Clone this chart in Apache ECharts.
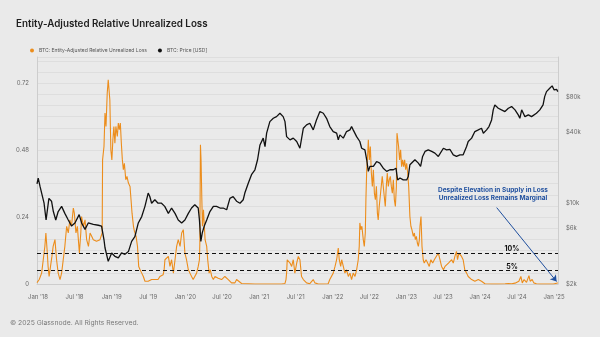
<!DOCTYPE html>
<html><head><meta charset="utf-8">
<script src="https://cdn.jsdelivr.net/npm/echarts@6/dist/echarts.min.js"></script>
<style>html,body{margin:0;padding:0;background:#eaeaea;}#c{width:600px;height:337px;}</style>
</head><body><div id="c"></div>
<script>
const chartTitle = 'Entity-Adjusted Relative Unrealized Loss';
const seriesNames = ['BTC: Entity-Adjusted Relative Unrealized Loss', 'BTC: Price [USD]'];
const footerText = '\u00a9 2025 Glassnode. All Rights Reserved.';
const annotationLines = ['Despite Elevation in Supply in Loss', 'Unrealized Loss Remains Marginal'];
const xTickDates = ['2018-01-01','2018-07-01','2019-01-01','2019-07-01','2020-01-01','2020-07-01','2021-01-01','2021-07-01','2022-01-01','2022-07-01','2023-01-01','2023-07-01','2024-01-01','2024-07-01','2025-01-01'];
const xRange = ['2017-12-27', '2025-01-21'];
const leftTicks = [0, 0.24, 0.48, 0.72];
const priceTicks = [2000, 6000, 10000, 40000, 80000];
const thresholds = [[0.11, '10%'], [0.048, '5%']];
const arrowFrom = ['2024-03-23', 0.274];
const arrowTo = ['2025-01-14', 0.009];

const rulPoints = [
['2017-12-27',0.005],['2018-01-07',0.016],['2018-01-19',0.039],['2018-01-27',0.087],['2018-02-04',0.135],['2018-02-09',0.183],['2018-02-15',0.123],['2018-02-20',0.063],['2018-02-25',0.027],['2018-03-04',0.063],['2018-03-11',0.099],['2018-03-17',0.135],['2018-03-26',0.159],['2018-04-03',0.087],['2018-04-11',0.039],['2018-04-20',0.016],['2018-04-28',0.039],['2018-05-06',0.087],['2018-05-14',0.135],['2018-05-23',0.207],['2018-05-31',0.183],['2018-06-08',0.230],['2018-06-16',0.207],['2018-06-25',0.272],['2018-06-30',0.254],['2018-07-08',0.183],['2018-07-15',0.207],['2018-07-20',0.159],['2018-07-25',0.111],['2018-08-01',0.183],['2018-08-05',0.242],['2018-08-14',0.207],['2018-08-22',0.230],['2018-08-30',0.159],['2018-09-08',0.135],['2018-09-16',0.183],['2018-09-24',0.171],['2018-10-02',0.159],['2018-10-10',0.159],['2018-10-18',0.153],['2018-10-27',0.153],['2018-11-04',0.159],['2018-11-09',0.165],['2018-11-15',0.183],['2018-11-17',0.445],['2018-11-24',0.493],['2018-11-29',0.613],['2018-12-04',0.565],['2018-12-10',0.684],['2018-12-15',0.732],['2018-12-18',0.738],['2018-12-23',0.660],['2018-12-28',0.481],
['2019-01-02',0.445],['2019-01-07',0.517],['2019-01-12',0.565],['2019-01-17',0.505],['2019-01-22',0.565],['2019-01-29',0.529],['2019-02-03',0.577],['2019-02-08',0.553],['2019-02-13',0.577],['2019-02-18',0.505],['2019-02-23',0.445],['2019-02-28',0.410],['2019-03-05',0.433],['2019-03-12',0.374],['2019-03-18',0.386],['2019-03-25',0.362],['2019-04-02',0.350],['2019-04-07',0.302],['2019-04-12',0.254],['2019-04-19',0.207],['2019-04-24',0.189],['2019-05-02',0.171],['2019-05-09',0.135],['2019-05-15',0.063],['2019-05-22',0.051],['2019-05-30',0.039],['2019-06-07',0.027],['2019-06-15',0.010],['2019-06-23',0.004],['2019-07-01',0.010],['2019-07-09',0.004],['2019-07-18',0.016],['2019-07-26',0.010],['2019-08-03',0.016],['2019-08-11',0.021],['2019-08-19',0.016],['2019-08-28',0.027],['2019-09-05',0.021],['2019-09-13',0.033],['2019-09-18',0.051],['2019-09-22',0.087],['2019-10-09',0.099],['2019-10-17',0.063],['2019-10-25',0.087],['2019-11-03',0.039],['2019-11-11',0.087],['2019-11-19',0.135],['2019-11-27',0.159],['2019-12-06',0.135],['2019-12-14',0.183],['2019-12-22',0.195],['2019-12-30',0.111],
['2020-01-07',0.087],['2020-01-16',0.051],['2020-01-24',0.039],['2020-02-01',0.027],['2020-02-09',0.016],['2020-02-17',0.027],['2020-02-26',0.039],['2020-03-05',0.063],['2020-03-11',0.087],['2020-03-13',0.147],['2020-03-16',0.499],['2020-03-19',0.445],['2020-03-23',0.302],['2020-03-26',0.207],['2020-03-31',0.266],['2020-04-08',0.159],['2020-04-16',0.135],['2020-04-21',0.087],['2020-04-28',0.039],['2020-05-04',0.051],['2020-05-11',0.027],['2020-05-19',0.016],['2020-05-27',0.027],['2020-06-12',0.021],['2020-06-29',0.016],['2020-07-15',0.027],['2020-08-01',0.016],['2020-08-17',0.004],['2020-09-03',0.004],['2020-09-11',0.016],['2020-09-19',0.010],['2020-10-06',0.002],['2020-11-08',0.001],['2020-12-11',0.0],
['2021-01-13',0.0],['2021-02-15',0.0],['2021-03-20',0.0],['2021-04-22',0.0],['2021-05-09',0.002],['2021-05-14',0.016],['2021-05-17',0.039],['2021-05-20',0.087],['2021-05-25',0.087],['2021-06-03',0.075],['2021-06-11',0.063],['2021-06-19',0.087],['2021-06-27',0.039],['2021-07-06',0.075],['2021-07-14',0.099],['2021-07-22',0.087],['2021-07-30',0.027],['2021-08-08',0.016],['2021-08-24',0.004],['2021-09-09',0.001],['2021-09-26',0.016],['2021-10-04',0.004],['2021-10-21',0.0],['2021-11-15',0.0],['2021-12-09',0.001],['2021-12-17',0.016],['2021-12-26',0.021],
['2022-01-03',0.039],['2022-01-12',0.063],['2022-01-20',0.087],['2022-01-28',0.129],['2022-02-02',0.087],['2022-02-09',0.063],['2022-02-14',0.087],['2022-02-22',0.063],['2022-03-02',0.039],['2022-03-10',0.051],['2022-03-19',0.027],['2022-03-27',0.039],['2022-04-04',0.016],['2022-04-12',0.039],['2022-04-21',0.027],['2022-04-29',0.051],['2022-05-07',0.087],['2022-05-12',0.135],['2022-05-15',0.219],['2022-05-20',0.195],['2022-05-25',0.207],['2022-06-01',0.159],['2022-06-06',0.135],['2022-06-11',0.183],['2022-06-14',0.302],['2022-06-18',0.410],['2022-06-23',0.469],['2022-06-26',0.517],['2022-07-01',0.445],['2022-07-06',0.493],['2022-07-11',0.398],['2022-07-16',0.350],['2022-07-21',0.410],['2022-07-26',0.326],['2022-07-31',0.302],['2022-08-05',0.350],['2022-08-10',0.254],['2022-08-14',0.230],['2022-08-19',0.278],['2022-08-24',0.314],['2022-08-29',0.350],['2022-09-03',0.386],['2022-09-08',0.350],['2022-09-13',0.314],['2022-09-18',0.278],['2022-09-23',0.350],['2022-09-28',0.398],['2022-10-03',0.350],['2022-10-08',0.374],['2022-10-13',0.386],['2022-10-18',0.350],['2022-10-23',0.326],['2022-10-28',0.374],['2022-11-02',0.302],['2022-11-07',0.278],['2022-11-12',0.350],['2022-11-15',0.541],['2022-11-18',0.547],['2022-11-23',0.493],['2022-11-28',0.445],['2022-12-03',0.481],['2022-12-08',0.421],['2022-12-13',0.445],['2022-12-18',0.421],['2022-12-23',0.445],['2022-12-28',0.410],
['2023-01-02',0.433],['2023-01-07',0.398],['2023-01-12',0.350],['2023-01-18',0.242],['2023-01-23',0.207],['2023-01-28',0.195],['2023-02-04',0.171],['2023-02-09',0.183],['2023-02-14',0.159],['2023-02-19',0.171],['2023-02-24',0.147],['2023-03-01',0.135],['2023-03-06',0.159],['2023-03-09',0.207],['2023-03-14',0.242],['2023-03-19',0.135],['2023-03-25',0.087],['2023-03-30',0.075],['2023-04-08',0.087],['2023-04-16',0.075],['2023-04-24',0.063],['2023-05-02',0.087],['2023-05-11',0.075],['2023-05-19',0.087],['2023-05-27',0.081],['2023-06-08',0.111],['2023-06-16',0.087],['2023-06-24',0.063],['2023-07-03',0.051],['2023-07-11',0.063],['2023-07-19',0.057],['2023-07-28',0.075],['2023-08-04',0.069],['2023-08-13',0.087],['2023-08-21',0.075],['2023-08-29',0.099],['2023-09-06',0.117],['2023-09-11',0.087],['2023-09-18',0.111],['2023-09-23',0.117],['2023-10-01',0.099],['2023-10-09',0.087],['2023-10-17',0.051],['2023-10-26',0.039],['2023-11-03',0.027],['2023-11-20',0.016],['2023-12-06',0.010],['2023-12-23',0.016],
['2024-01-08',0.010],['2024-01-17',0.004],['2024-01-25',0.001],['2024-02-27',0.0],['2024-03-31',0.0],['2024-05-04',0.001],['2024-05-20',0.002],['2024-06-05',0.001],['2024-06-22',0.003],['2024-06-30',0.001],['2024-07-11',0.010],['2024-07-21',0.027],['2024-07-28',0.004],['2024-08-06',0.016],['2024-08-18',0.006],['2024-08-30',0.030],['2024-09-05',0.010],['2024-09-15',0.016],['2024-09-23',0.004],['2024-10-06',0.001],['2024-10-23',0.0],['2024-11-25',0.0],['2024-12-29',0.0],['2025-01-14',0.003],['2025-01-20',0.004]
];

const pricePoints = [
['2017-12-27',14500],['2018-01-02',16300],['2018-01-11',13800],['2018-01-19',12100],['2018-01-31',9900],['2018-02-10',7100],['2018-02-24',10900],['2018-03-09',10300],['2018-03-18',8400],['2018-03-30',7100],['2018-04-11',8400],['2018-04-28',9300],['2018-05-14',8100],['2018-05-31',7100],['2018-06-16',6300],['2018-07-03',6700],['2018-07-24',7900],['2018-08-05',6700],['2018-08-22',5900],['2018-09-07',6700],['2018-10-02',6500],['2018-10-27',6400],['2018-11-12',6300],['2018-11-20',6100],['2018-11-24',4800],['2018-11-29',4100],['2018-12-15',3130],
['2019-01-01',3700],['2019-01-17',3460],['2019-02-03',3350],['2019-02-19',3700],['2019-03-08',3600],['2019-03-25',3800],['2019-04-10',4650],['2019-04-26',5100],['2019-05-13',6700],['2019-05-30',7600],['2019-06-15',9300],['2019-07-01',12100],['2019-07-09',11300],['2019-07-18',9900],['2019-08-03',10600],['2019-08-19',9900],['2019-09-05',9900],['2019-09-21',9300],['2019-10-09',8100],['2019-10-25',9000],['2019-11-11',8100],['2019-11-27',7100],['2019-12-14',6700],['2019-12-30',7100],
['2020-01-16',8100],['2020-02-01',9000],['2020-02-17',9600],['2020-03-05',9000],['2020-03-11',7100],['2020-03-18',4650],['2020-03-25',5500],['2020-04-04',6300],['2020-04-16',7100],['2020-05-02',8400],['2020-05-19',9300],['2020-06-04',9300],['2020-06-21',9000],['2020-07-07',9000],['2020-07-24',8700],['2020-08-09',10900],['2020-08-25',11300],['2020-09-11',10300],['2020-09-28',9900],['2020-10-14',10600],['2020-10-22',12100],['2020-11-08',14700],['2020-11-24',17400],['2020-12-11',19200],['2020-12-24',23400],
['2021-01-05',31400],['2021-01-21',35900],['2021-01-30',30400],['2021-02-07',39600],['2021-02-23',49800],['2021-03-12',53200],['2021-03-28',55000],['2021-04-14',58800],['2021-04-30',55000],['2021-05-09',49800],['2021-05-17',37000],['2021-06-03',34700],['2021-06-19',35900],['2021-07-06',33600],['2021-07-22',29400],['2021-08-08',43700],['2021-08-24',46700],['2021-09-09',48200],['2021-09-26',42300],['2021-10-12',51500],['2021-10-29',60800],['2021-11-06',62800],['2021-11-15',58800],['2021-12-01',53200],['2021-12-17',45200],
['2022-01-03',40900],['2022-01-20',39600],['2022-01-28',34700],['2022-02-05',38300],['2022-02-22',35900],['2022-03-10',40900],['2022-03-27',42300],['2022-04-04',45200],['2022-04-12',42300],['2022-04-29',37000],['2022-05-15',33600],['2022-05-24',29400],['2022-06-09',28500],['2022-06-18',23400],['2022-06-26',18600],['2022-07-04',20500],['2022-07-21',20500],['2022-08-06',22600],['2022-08-22',21900],['2022-09-08',19800],['2022-09-25',18600],['2022-10-11',19200],['2022-10-28',19200],['2022-11-10',19800],['2022-11-18',15700],['2022-11-30',16300],['2022-12-16',15700],
['2023-01-02',15700],['2023-01-10',16800],['2023-01-18',21200],['2023-01-27',21900],['2023-02-12',23400],['2023-03-01',21900],['2023-03-12',20500],['2023-03-22',25000],['2023-04-03',27600],['2023-04-19',28500],['2023-05-06',27600],['2023-05-22',26700],['2023-06-08',25000],['2023-07-03',29400],['2023-07-19',28500],['2023-08-04',28800],['2023-08-21',25800],['2023-09-06',25000],['2023-09-23',25800],['2023-10-09',25800],['2023-10-26',30400],['2023-11-03',33600],['2023-11-20',35900],['2023-12-06',40900],['2023-12-23',42300],
['2024-01-08',43700],['2024-01-17',39600],['2024-02-02',42300],['2024-02-14',45200],['2024-02-27',51500],['2024-03-06',62800],['2024-03-14',69400],['2024-03-31',64900],['2024-04-16',62800],['2024-05-03',60800],['2024-05-20',64900],['2024-06-05',67100],['2024-06-22',62800],['2024-07-08',56900],['2024-07-16',53200],['2024-07-25',62800],['2024-08-02',58800],['2024-08-10',55000],['2024-08-27',56900],['2024-09-12',55000],['2024-09-20',53200],['2024-10-06',58800],['2024-10-23',62800],['2024-11-08',69400],['2024-11-16',81700],['2024-11-25',90200],['2024-12-11',96300],['2024-12-23',101000],['2025-01-02',93200],['2025-01-14',94500],['2025-01-20',90200]
];

const ORANGE = '#ec8d1c', BLACK = '#111111', BLUE = '#1f4f9e', AXIS = '#cdcdcd', LABEL = '#6a6a6a';
const FONT = 'Inter, Roboto, "Noto Sans", sans-serif';
const MONTHS = ['Jan','Feb','Mar','Apr','May','Jun','Jul','Aug','Sep','Oct','Nov','Dec'];
const ts = s => { const p = s.split('-').map(Number); return Date.UTC(p[0], p[1] - 1, p[2]); };
const toXY = pts => pts.map(p => [ts(p[0]), p[1]]);

function buildOption(customLog) {
  return {
    animation: false,
    backgroundColor: '#eaeaea',
    textStyle: {fontFamily: FONT},
    title: {text: chartTitle, left: 11, top: 14, textStyle: {fontFamily: FONT, fontSize: 9.8, fontWeight: 600, color: '#1e1e1e'}},
    legend: {
      data: seriesNames, left: 25, top: 43, icon: 'circle', itemWidth: 4, itemHeight: 4, itemGap: 11,
      textStyle: {fontFamily: FONT, fontSize: 5, color: '#555'}
    },
    grid: {left: 37, right: 42, top: 57, bottom: 53, containLabel: false},
    xAxis: {
      type: 'value', min: ts(xRange[0]), max: ts(xRange[1]),
      axisLine: {show: true, onZero: false, lineStyle: {color: AXIS}}, axisTick: {show: false}, splitLine: {show: false},
      axisLabel: {
        customValues: xTickDates.map(ts), hideOverlap: false, fontSize: 6, color: LABEL, margin: 10, fontFamily: FONT,
        formatter: v => { const d = new Date(v); return MONTHS[d.getUTCMonth()] + " '" + String(d.getUTCFullYear()).slice(2); }
      }
    },
    yAxis: [
      {
        type: 'value', min: 0, max: 0.814, interval: 0.04, position: 'left',
        axisLine: {show: true, lineStyle: {color: AXIS}}, axisTick: {show: false},
        splitLine: {show: true, lineStyle: {color: 'rgba(0,0,0,0.05)', width: 1}},
        axisLabel: {customValues: leftTicks, formatter: v => v === 0 ? '0' : v.toFixed(2), fontSize: 6, color: LABEL, margin: 8, fontFamily: FONT}
      },
      {
        type: 'log', logBase: 10, min: 2000, max: 179000, position: 'right',
        axisLine: {show: true, lineStyle: {color: AXIS}}, axisTick: {show: false}, splitLine: {show: false},
        axisLabel: customLog
          ? {customValues: priceTicks, formatter: v => '$' + Math.round(v / 1000) + 'k', fontSize: 6, color: LABEL, margin: 8, fontFamily: FONT}
          : {show: false}
      }
    ],
    series: [
      {
        name: seriesNames[0], type: 'line', yAxisIndex: 0, data: toXY(rulPoints), symbol: 'none', showSymbol: false,
        lineStyle: {color: ORANGE, width: 1.1}, itemStyle: {color: ORANGE},
        markLine: {
          silent: true, animation: false, symbol: 'none',
          data: thresholds.map(t => ({yAxis: t[0], label: {show: false}, lineStyle: {color: '#111', type: [4, 3], width: 1}})).concat([
            [{coord: [ts(arrowFrom[0]), arrowFrom[1]], symbol: 'none', label: {show: false}, lineStyle: {color: BLUE, width: 1, type: 'solid'}},
             {coord: [ts(arrowTo[0]), arrowTo[1]], symbol: 'arrow', symbolSize: 6}]
          ])
        }
      },
      {
        name: seriesNames[1], type: 'line', yAxisIndex: 1, data: toXY(pricePoints), symbol: 'none', showSymbol: false,
        lineStyle: {color: BLACK, width: 1.3}, itemStyle: {color: BLACK}
      }
    ]
  };
}

let chart = echarts.init(document.getElementById('c'), null, {renderer: 'canvas'});
let customLogOk = true;
try {
  chart.setOption(buildOption(true));
} catch (e) {
  customLogOk = false;
  chart.dispose();
  chart = echarts.init(document.getElementById('c'), null, {renderer: 'canvas'});
  chart.setOption(buildOption(false));
}

const extra = [
  {type: 'text', left: 10, top: 319, style: {text: footerText, font: '6.8px ' + FONT, fill: '#7a7a7a'}},
  {type: 'text', x: 493, y: 190, style: {text: annotationLines[0], font: 'bold 6.5px ' + FONT, fill: BLUE, align: 'center', verticalAlign: 'middle'}},
  {type: 'text', x: 493, y: 198, style: {text: annotationLines[1], font: 'bold 6.5px ' + FONT, fill: BLUE, align: 'center', verticalAlign: 'middle'}}
];
thresholds.forEach(t => {
  const y = chart.convertToPixel({yAxisIndex: 0}, t[0]);
  extra.push({type: 'text', x: 512, y: y - 0.5, style: {text: t[1], font: 'bold 7px ' + FONT, fill: '#111', align: 'center', verticalAlign: 'bottom'}});
});
if (!customLogOk) {
  priceTicks.forEach(p => {
    const y = chart.convertToPixel({yAxisIndex: 1}, p);
    extra.push({type: 'text', x: 566, y: y, style: {text: '$' + Math.round(p / 1000) + 'k', font: '6px ' + FONT, fill: LABEL, align: 'left', verticalAlign: 'middle'}});
  });
}
chart.setOption({graphic: extra});
</script></body></html>
